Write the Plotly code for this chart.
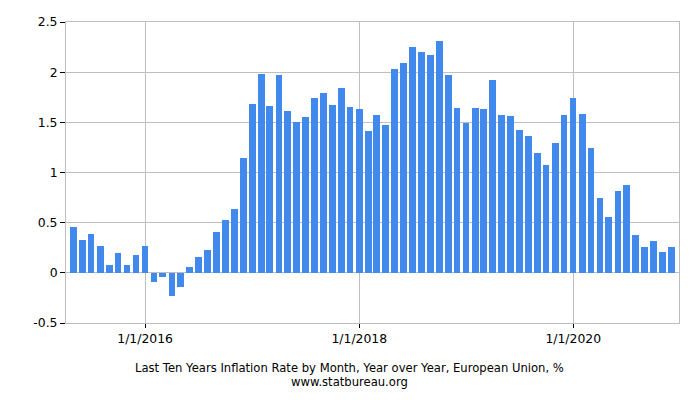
import plotly.graph_objects as go
import pandas as pd

months = pd.date_range("2015-05-01", "2020-12-01", freq="MS")
values = [0.46, 0.33, 0.39, 0.27, 0.08, 0.20, 0.08, 0.18,
          0.27, -0.09, -0.04, -0.23, -0.14, 0.06, 0.16, 0.23, 0.41, 0.53, 0.64, 1.14,
          1.68, 1.98, 1.66, 1.97, 1.61, 1.50, 1.55, 1.74, 1.79, 1.67, 1.84, 1.65,
          1.63, 1.41, 1.57, 1.47, 2.03, 2.09, 2.25, 2.20, 2.17, 2.31, 1.97, 1.64,
          1.49, 1.64, 1.63, 1.92, 1.57, 1.56, 1.42, 1.36, 1.19, 1.07, 1.29, 1.57,
          1.74, 1.58, 1.24, 0.75, 0.56, 0.82, 0.88, 0.38, 0.26, 0.32, 0.21, 0.26]

y_tick_vals = [-0.5, 0, 0.5, 1, 1.5, 2, 2.5]
y_tick_text = ["-0.5", "0", "0.5", "1", "1.5", "2", "2.5"]
x_tick_vals = ["2016-01-01", "2018-01-01", "2020-01-01"]
x_tick_text = ["1/1/2016", "1/1/2018", "1/1/2020"]

title_line1 = "Last Ten Years Inflation Rate by Month, Year over Year, European Union, %"
title_line2 = "www.statbureau.org"

fig = go.Figure(go.Bar(
    x=months, y=values,
    marker=dict(color="#4289EE", line=dict(width=0)),
    width=22 * 86400000,
))

font = "DejaVu Sans, Verdana, sans-serif"
fig.update_layout(
    width=700, height=400,
    margin=dict(l=66, r=21, t=22, b=77),
    paper_bgcolor="white", plot_bgcolor="white",
    showlegend=False,
    font=dict(family=font, size=12, color="#000000"),
    bargap=0,
)
fig.update_xaxes(
    type="date",
    range=["2015-04-06", "2020-12-27"],
    tickvals=x_tick_vals, ticktext=x_tick_text,
    showgrid=True, gridcolor="#bfbfbf", gridwidth=1,
    showline=True, linecolor="#bdbdbd", linewidth=1, mirror=True,
    ticks="outside", ticklen=4, tickcolor="#000000", tickwidth=1,
    tickfont=dict(family=font, size=12.4, color="#000000"),
    zeroline=False,
)
fig.update_yaxes(
    range=[-0.5, 2.5],
    tickvals=y_tick_vals, ticktext=y_tick_text,
    showgrid=True, gridcolor="#bfbfbf", gridwidth=1,
    showline=True, linecolor="#bdbdbd", linewidth=1, mirror=True,
    ticks="outside", ticklen=5, tickcolor="#000000", tickwidth=1,
    tickfont=dict(family=font, size=12.4, color="#000000"),
    zeroline=False,
)
fig.add_annotation(text=title_line1, xref="paper", yref="paper",
                   x=0.463, y=-0.1495, xanchor="center", yanchor="middle",
                   showarrow=False, font=dict(family=font, size=11.6, color="#000000"))
fig.add_annotation(text=title_line2, xref="paper", yref="paper",
                   x=0.463, y=-0.196, xanchor="center", yanchor="middle",
                   showarrow=False, font=dict(family=font, size=11.6, color="#000000"))

fig.write_html("out.html")
